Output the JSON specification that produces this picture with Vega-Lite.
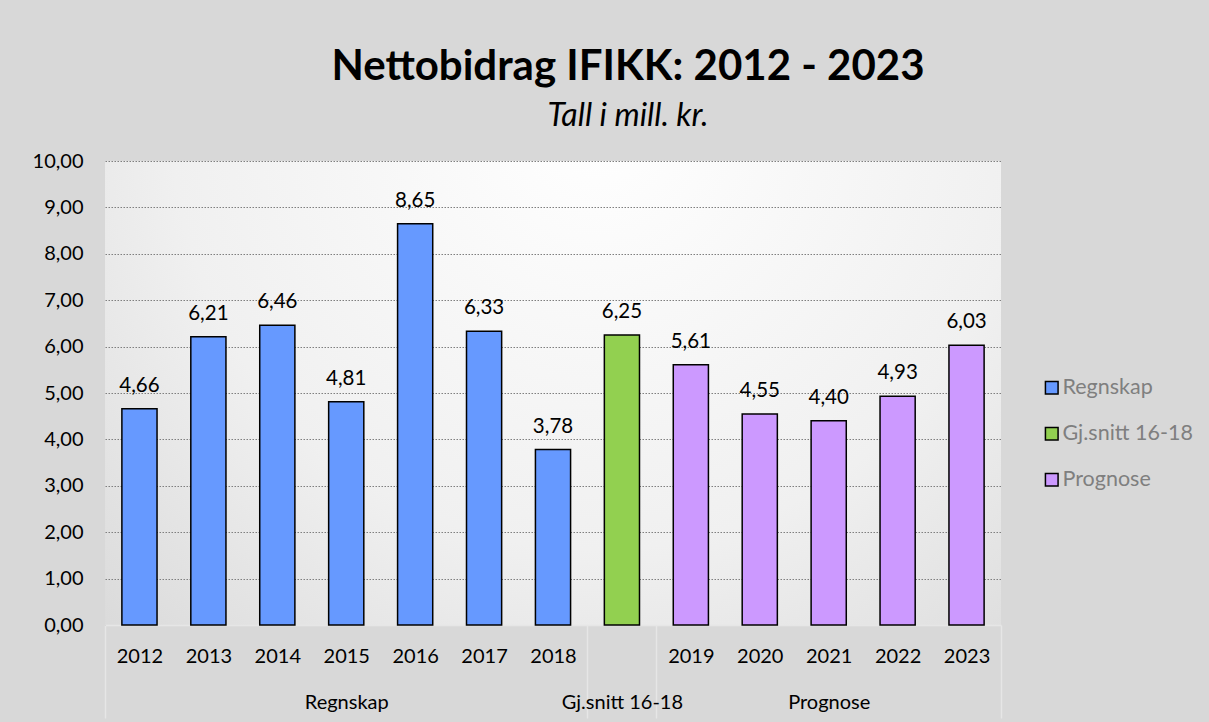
{
  "$schema": "https://vega.github.io/schema/vega-lite/v6.json",
  "autosize": "none",
  "width": 896,
  "height": 464,
  "padding": {"left": 105, "top": 161, "right": 208, "bottom": 97},
  "background": "#d8d8d8",
  "title": {
    "text": "Nettobidrag IFIKK: 2012 - 2023",
    "subtitle": "Tall i mill. kr.",
    "anchor": "middle",
    "dx": 75,
    "offset": 18,
    "font": "Lato",
    "fontSize": 42,
    "fontWeight": "bold",
    "color": "#000000",
    "subtitleFont": "Lato",
    "subtitleFontSize": 32,
    "subtitleFontStyle": "italic",
    "subtitleColor": "#000000",
    "subtitlePadding": 12
  },
  "data": {
    "values": [
      {"kategori": "2012", "gruppe": "Regnskap", "verdi": 4.66},
      {"kategori": "2013", "gruppe": "Regnskap", "verdi": 6.21},
      {"kategori": "2014", "gruppe": "Regnskap", "verdi": 6.46},
      {"kategori": "2015", "gruppe": "Regnskap", "verdi": 4.81},
      {"kategori": "2016", "gruppe": "Regnskap", "verdi": 8.65},
      {"kategori": "2017", "gruppe": "Regnskap", "verdi": 6.33},
      {"kategori": "2018", "gruppe": "Regnskap", "verdi": 3.78},
      {"kategori": "Gj.snitt 16-18", "gruppe": "Gj.snitt 16-18", "verdi": 6.25},
      {"kategori": "2019", "gruppe": "Prognose", "verdi": 5.61},
      {"kategori": "2020", "gruppe": "Prognose", "verdi": 4.55},
      {"kategori": "2021", "gruppe": "Prognose", "verdi": 4.40},
      {"kategori": "2022", "gruppe": "Prognose", "verdi": 4.93},
      {"kategori": "2023", "gruppe": "Prognose", "verdi": 6.03}
    ]
  },
  "encoding": {
    "x": {
      "field": "kategori",
      "type": "nominal",
      "sort": null,
      "scale": {"paddingInner": 0, "paddingOuter": 0},
      "axis": {
        "title": null,
        "labelAngle": 0,
        "labelOverlap": false,
        "labelFont": "Lato",
        "labelFontSize": 20,
        "labelColor": "#000000",
        "labelBaseline": "top",
        "labelLineHeight": 46,
        "labelPadding": -72,
        "labelExpr": "datum.value == '2015' ? ['2015', 'Regnskap'] : datum.value == 'Gj.snitt 16-18' ? ['', 'Gj.snitt 16-18'] : datum.value == '2021' ? ['2021', 'Prognose'] : datum.label",
        "domain": true,
        "domainColor": "#e6e6e6",
        "domainWidth": 1.5,
        "ticks": true,
        "tickBand": "extent",
        "tickSize": 93,
        "tickWidth": 1.5,
        "tickColor": "#e6e6e6",
        "tickOpacity": {"condition": {"test": "datum.extra || datum.value == '2018' || datum.value == 'Gj.snitt 16-18' || datum.value == '2023'", "value": 1}, "value": 0},
        "grid": false
      }
    },
    "y": {
      "field": "verdi",
      "type": "quantitative",
      "scale": {"domain": [0, 10], "nice": false},
      "axis": {
        "title": null,
        "values": [0, 1, 2, 3, 4, 5, 6, 7, 8, 9, 10],
        "format": ".2f",
        "labelFont": "Lato",
        "labelFontSize": 20,
        "labelColor": "#000000",
        "labelPadding": 22,
        "domain": false,
        "ticks": false,
        "grid": true,
        "gridColor": "#7f7f7f",
        "gridDash": [1.5, 1.5],
        "gridWidth": 1
      }
    }
  },
  "layer": [
    {
      "mark": {"type": "bar", "stroke": "#000000", "strokeWidth": 1.5, "width": {"band": 0.51}},
      "encoding": {
        "color": {
          "field": "gruppe",
          "type": "nominal",
          "scale": {
            "domain": ["Regnskap", "Gj.snitt 16-18", "Prognose"],
            "range": ["#6699ff", "#92d050", "#cc99ff"]
          },
          "legend": {
            "title": null,
            "orient": "none",
            "legendX": 936,
            "legendY": 216,
            "padding": 0,
            "symbolType": "square",
            "symbolSize": 160,
            "symbolStrokeColor": "#000000",
            "symbolStrokeWidth": 1.5,
            "labelFont": "Lato",
            "labelFontSize": 21.5,
            "labelColor": "#7f7f7f",
            "labelOffset": 0,
            "rowPadding": 23
          }
        }
      }
    },
    {
      "mark": {"type": "text", "font": "Lato", "fontSize": 20.5, "color": "#000000", "baseline": "alphabetic", "dy": -17},
      "encoding": {
        "text": {"field": "verdi", "type": "quantitative", "format": ".2f"}
      }
    }
  ],
  "config": {
    "locale": {
      "number": {"decimal": ",", "thousands": " ", "grouping": [3], "currency": ["", " kr"]}
    },
    "view": {
      "stroke": null,
      "fill": {
        "gradient": "radial",
        "x1": 0.55, "y1": 0.2, "r1": 0,
        "x2": 0.55, "y2": 0.2, "r2": 0.95,
        "stops": [
          {"offset": 0, "color": "#ffffff"},
          {"offset": 0.5, "color": "#f0f0f0"},
          {"offset": 1, "color": "#cfcfcf"}
        ]
      }
    }
  }
}
